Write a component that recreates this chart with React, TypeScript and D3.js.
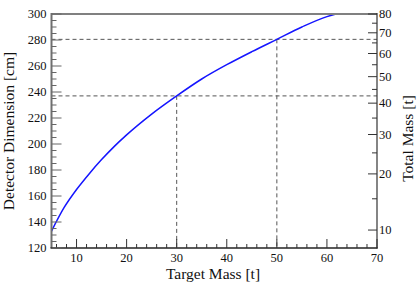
import * as d3 from "d3";
import React from "react";

// curve: target mass [t] vs detector dimension [cm]
const targetMass = [5, 7.5, 10, 12.5, 15, 17.5, 20, 25, 30, 35, 40, 45, 50, 55, 60, 61.8];
const detectorDim = [133, 151, 165, 177, 188, 198, 207, 223, 237, 250, 261, 271, 280.5, 290, 298, 300];

// the two marked working points
const markMass = [30, 50];
const markDim = [237, 280.5];

const xMajor = [10, 20, 30, 40, 50, 60, 70];
const yMajor = [120, 140, 160, 180, 200, 220, 240, 260, 280, 300];
const massMajor = [10, 20, 30, 40, 50, 60, 70, 80];
const massMinor = [15, 25, 35, 45, 55, 65, 75];

const width = 417;
const height = 283;
const left = 51.5;
const right = 377;
const top = 14;
const bottom = 248;

const font = "'Liberation Serif', 'DejaVu Serif', serif";

const x = d3.scaleLinear().domain([5, 70]).range([left, right]);
const y = d3.scaleLinear().domain([120, 300]).range([bottom, top]);
const yMass = d3.scalePow().exponent(1 / 3).domain([7.71, 80]).range([bottom, top]);

const xMinor = d3.range(6, 70.1, 2).filter((v) => v % 10 !== 0);
const yMinor = d3.range(125, 300, 5).filter((v) => v % 20 !== 0);

const curve = d3
  .line<number>()
  .x((d, i) => x(targetMass[i]))
  .y((d, i) => y(detectorDim[i]))
  .curve(d3.curveMonotoneX);

const App = () => {
  return (
    <svg
      width={width}
      height={height}
      style={{ position: "absolute", left: 0, top: 0, display: "block" }}
      fontFamily={font}
    >
      <rect width={width} height={height} fill="white" />
      <defs>
        <clipPath id="plot">
          <rect x={left} y={top - 1} width={right - left} height={bottom - top + 1} />
        </clipPath>
      </defs>

      {/* dashed guides */}
      {markMass.map((m, i) => (
        <g key={m} stroke="#555" strokeWidth={1} strokeDasharray="4,3" fill="none">
          <line x1={left} x2={right} y1={y(markDim[i])} y2={y(markDim[i])} />
          <line x1={x(m)} x2={x(m)} y1={y(markDim[i])} y2={bottom} />
        </g>
      ))}

      <path d={curve(targetMass) || ""} fill="none" stroke="#1515ff" strokeWidth={1.5} clipPath="url(#plot)" />

      {/* frame */}
      <line x1={left} x2={right} y1={top} y2={top} stroke="#808080" strokeWidth={2} />
      <line x1={left} x2={left} y1={top - 1} y2={bottom} stroke="#707070" strokeWidth={2} />
      <line x1={right} x2={right} y1={top - 1} y2={bottom + 0.5} stroke="#333" strokeWidth={1.2} />
      <line x1={left - 1} x2={right + 0.6} y1={bottom} y2={bottom} stroke="#222" strokeWidth={1.3} />

      {/* bottom axis */}
      {xMinor.map((v) => (
        <line key={"xm" + v} x1={x(v)} x2={x(v)} y1={bottom} y2={bottom - 4} stroke="#333" />
      ))}
      {xMajor.map((v) => (
        <g key={"x" + v}>
          <line x1={x(v)} x2={x(v)} y1={bottom} y2={bottom - 9} stroke="#333" />
          <text x={x(v)} y={262} fontSize={12.5} textAnchor="middle" fill="#111">
            {v}
          </text>
        </g>
      ))}

      {/* left axis */}
      {yMinor.map((v) => (
        <line key={"ym" + v} x1={left} x2={left + 5} y1={y(v)} y2={y(v)} stroke="#666" />
      ))}
      {yMajor.map((v) => (
        <g key={"y" + v}>
          <line x1={left} x2={left + 10} y1={y(v)} y2={y(v)} stroke="#666" />
          <text x={46.5} y={y(v) + 4.3} fontSize={12.5} textAnchor="end" fill="#111">
            {v}
          </text>
        </g>
      ))}

      {/* right axis: total mass */}
      {massMinor.map((v) => (
        <line key={"mm" + v} x1={right} x2={right - 5} y1={yMass(v)} y2={yMass(v)} stroke="#333" />
      ))}
      {massMajor.map((v) => (
        <g key={"m" + v}>
          <line x1={right} x2={right - 9} y1={yMass(v)} y2={yMass(v)} stroke="#333" />
          <text x={379} y={yMass(v) + 4.3} fontSize={12.5} textAnchor="start" fill="#111">
            {v}
          </text>
        </g>
      ))}

      {/* titles */}
      <text x={213} y={279} fontSize={15.5} textAnchor="middle" fill="#111">
        Target Mass [t]
      </text>
      <text
        transform={`translate(14, 131) rotate(-90)`}
        fontSize={15.5}
        textAnchor="middle"
        fill="#111"
      >
        Detector Dimension [cm]
      </text>
      <text
        transform={`translate(413, 138.5) rotate(-90)`}
        fontSize={15.5}
        textAnchor="middle"
        fill="#111"
      >
        Total Mass [t]
      </text>
    </svg>
  );
};

export default App;
